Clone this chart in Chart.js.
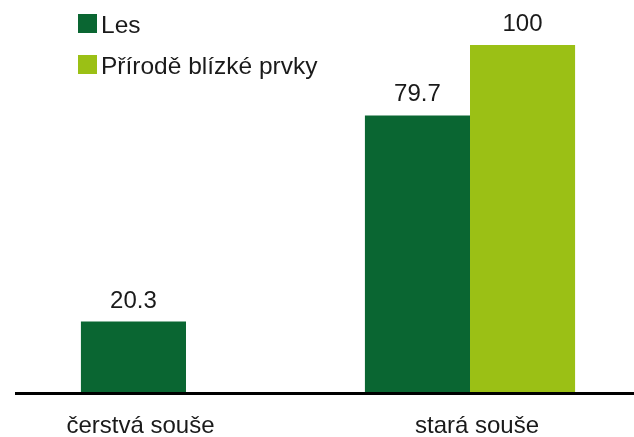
<!DOCTYPE html>
<html>
<head>
<meta charset="utf-8">
<script src="https://cdn.jsdelivr.net/npm/chart.js@4/dist/chart.umd.min.js"></script>
<style>
html,body{margin:0;padding:0;background:#fff;}
#wrap{width:634px;height:437px;position:relative;}
</style>
</head>
<body>
<div id="wrap"><canvas id="c" width="634" height="437"></canvas></div>
<script>
const categories = ["čerstvá souše", "stará souše"];
const seriesNames = ["Les", "Přírodě blízké prvky"];
const lesValues = [20.3, 79.7];
const prvkyValues = [null, 100];
const seriesColors = ["#0a6632", "#9bc015"];

const FONT = "'Liberation Sans', Arial, sans-serif";

const customDraw = {
  id: 'customDraw',
  afterDatasetsDraw(chart) {
    const ctx = chart.ctx;
    const yScale = chart.scales.y;
    const base = yScale.getPixelForValue(0);
    ctx.save();
    // baseline axis line
    ctx.strokeStyle = '#000';
    ctx.lineWidth = 3;
    ctx.beginPath();
    ctx.moveTo(15, base + 1.5);
    ctx.lineTo(chart.width, base + 1.5);
    ctx.stroke();

    // value labels
    ctx.fillStyle = '#1a1a1a';
    ctx.font = '24px ' + FONT;
    ctx.textAlign = 'center';
    ctx.textBaseline = 'alphabetic';
    chart.data.datasets.forEach((ds, di) => {
      const meta = chart.getDatasetMeta(di);
      meta.data.forEach((el, i) => {
        const v = ds.data[i];
        if (v === null || v === undefined) return;
        ctx.fillText(String(v), el.x, el.y - 14);
      });
    });

    // category labels centred under the bars present in each category
    chart.data.labels.forEach((lab, i) => {
      let lo = Infinity, hi = -Infinity;
      chart.data.datasets.forEach((ds, di) => {
        const v = ds.data[i];
        if (v === null || v === undefined) return;
        const el = chart.getDatasetMeta(di).data[i];
        lo = Math.min(lo, el.x - el.width / 2);
        hi = Math.max(hi, el.x + el.width / 2);
      });
      ctx.fillText(lab, (lo + hi) / 2 + 7, base + 41);
    });

    // legend
    ctx.textAlign = 'left';
    ctx.font = '24.5px ' + FONT;
    chart.data.datasets.forEach((ds, di) => {
      const y0 = 14 + di * 41;
      ctx.fillStyle = ds.backgroundColor;
      ctx.fillRect(78, y0, 19, 19);
      ctx.fillStyle = '#1a1a1a';
      ctx.fillText(ds.label, 101, y0 + 19);
    });
    ctx.restore();
  }
};

new Chart(document.getElementById('c'), {
  type: 'bar',
  data: {
    labels: categories,
    datasets: [
      { label: seriesNames[0], data: lesValues, backgroundColor: seriesColors[0] },
      { label: seriesNames[1], data: prvkyValues, backgroundColor: seriesColors[1] }
    ]
  },
  options: {
    responsive: false,
    animation: false,
    devicePixelRatio: 1,
    layout: { padding: { left: 44, right: 22, top: 45, bottom: 45 } },
    datasets: { bar: { categoryPercentage: 0.74, barPercentage: 1.0 } },
    plugins: { legend: { display: false }, tooltip: { enabled: false } },
    scales: {
      x: { display: false, grid: { display: false } },
      y: { display: false, min: 0, max: 100 }
    }
  },
  plugins: [customDraw]
});
</script>
</body>
</html>
